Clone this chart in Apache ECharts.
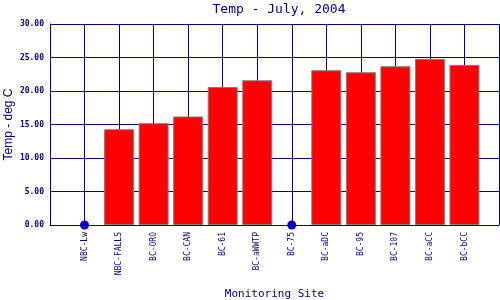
<!DOCTYPE html>
<html><head><meta charset="utf-8">
<script src="https://cdn.jsdelivr.net/npm/echarts@6/dist/echarts.min.js"></script>
<style>html,body{margin:0;padding:0;background:#fff}#c{width:500px;height:300px}</style>
</head><body><div id="c"></div>
<script>
const categories = ['', 'NBC-Lw', 'NBC-FALLS', 'BC-ORO', 'BC-CAN', 'BC-61', 'BC-aWWTP', 'BC-75', 'BC-aDC', 'BC-95', 'BC-107', 'BC-aCC', 'BC-bCC', ''];
const temps = [null, null, 14.3, 15.2, 16.2, 20.6, 21.6, null, 23.1, 22.8, 23.7, 24.8, 23.9, null];
const missing = [null, 0, null, null, null, null, null, 0, null, null, null, null, null, null];
const yTicks = [0, 5, 10, 15, 20, 25, 30];

const navy = '#000080';
const mono = '"DejaVu Sans Mono", "Liberation Mono", monospace';
const chart = echarts.init(document.getElementById('c'), null, {renderer: 'canvas'});
chart.setOption({
  animation: false,
  backgroundColor: '#fff',
  title: {
    text: 'Temp - July, 2004', left: 274, top: -2, textAlign: 'center',
    textStyle: {fontFamily: mono, fontSize: 13, fontWeight: 'normal', color: navy}
  },
  grid: {left: 50, right: 1, top: 24, bottom: 75, outerBoundsMode: 'none', containLabel: false},
  xAxis: {
    type: 'category', data: categories, boundaryGap: false,
    name: 'Monitoring Site', nameLocation: 'middle', nameGap: 64, nameMoveOverlap: false,
    nameTextStyle: {fontFamily: mono, fontSize: 11, color: navy},
    axisLine: {show: true, lineStyle: {color: navy, width: 1}},
    axisTick: {show: false},
    axisLabel: {rotate: 90, interval: 0, margin: 7, fontFamily: mono, fontSize: 8, color: navy},
    splitLine: {show: true, lineStyle: {color: navy, width: 1}}
  },
  yAxis: {
    type: 'value', min: 0, max: 30, interval: 5,
    name: 'Temp - deg C', nameLocation: 'middle', nameGap: 35, nameMoveOverlap: false,
    nameTextStyle: {fontFamily: '"Liberation Sans", Arial, sans-serif', fontSize: 12, color: navy},
    axisLine: {show: true, lineStyle: {color: navy, width: 1}},
    axisTick: {show: false},
    axisLabel: {margin: 6, fontFamily: mono, fontSize: 8, fontWeight: 'bold', color: navy,
      formatter: v => yTicks.includes(v) ? v.toFixed(2) : ''},
    splitLine: {show: true, lineStyle: {color: navy, width: 1}}
  },
  series: [
    {
      type: 'bar', data: temps, barWidth: 30,
      itemStyle: {color: '#ff0000', borderColor: '#808080', borderWidth: 1}
    },
    {
      type: 'scatter', data: missing, symbol: 'circle', symbolSize: 9,
      itemStyle: {color: '#0000c8', opacity: 1}, z: 5
    }
  ]
});
</script></body></html>
